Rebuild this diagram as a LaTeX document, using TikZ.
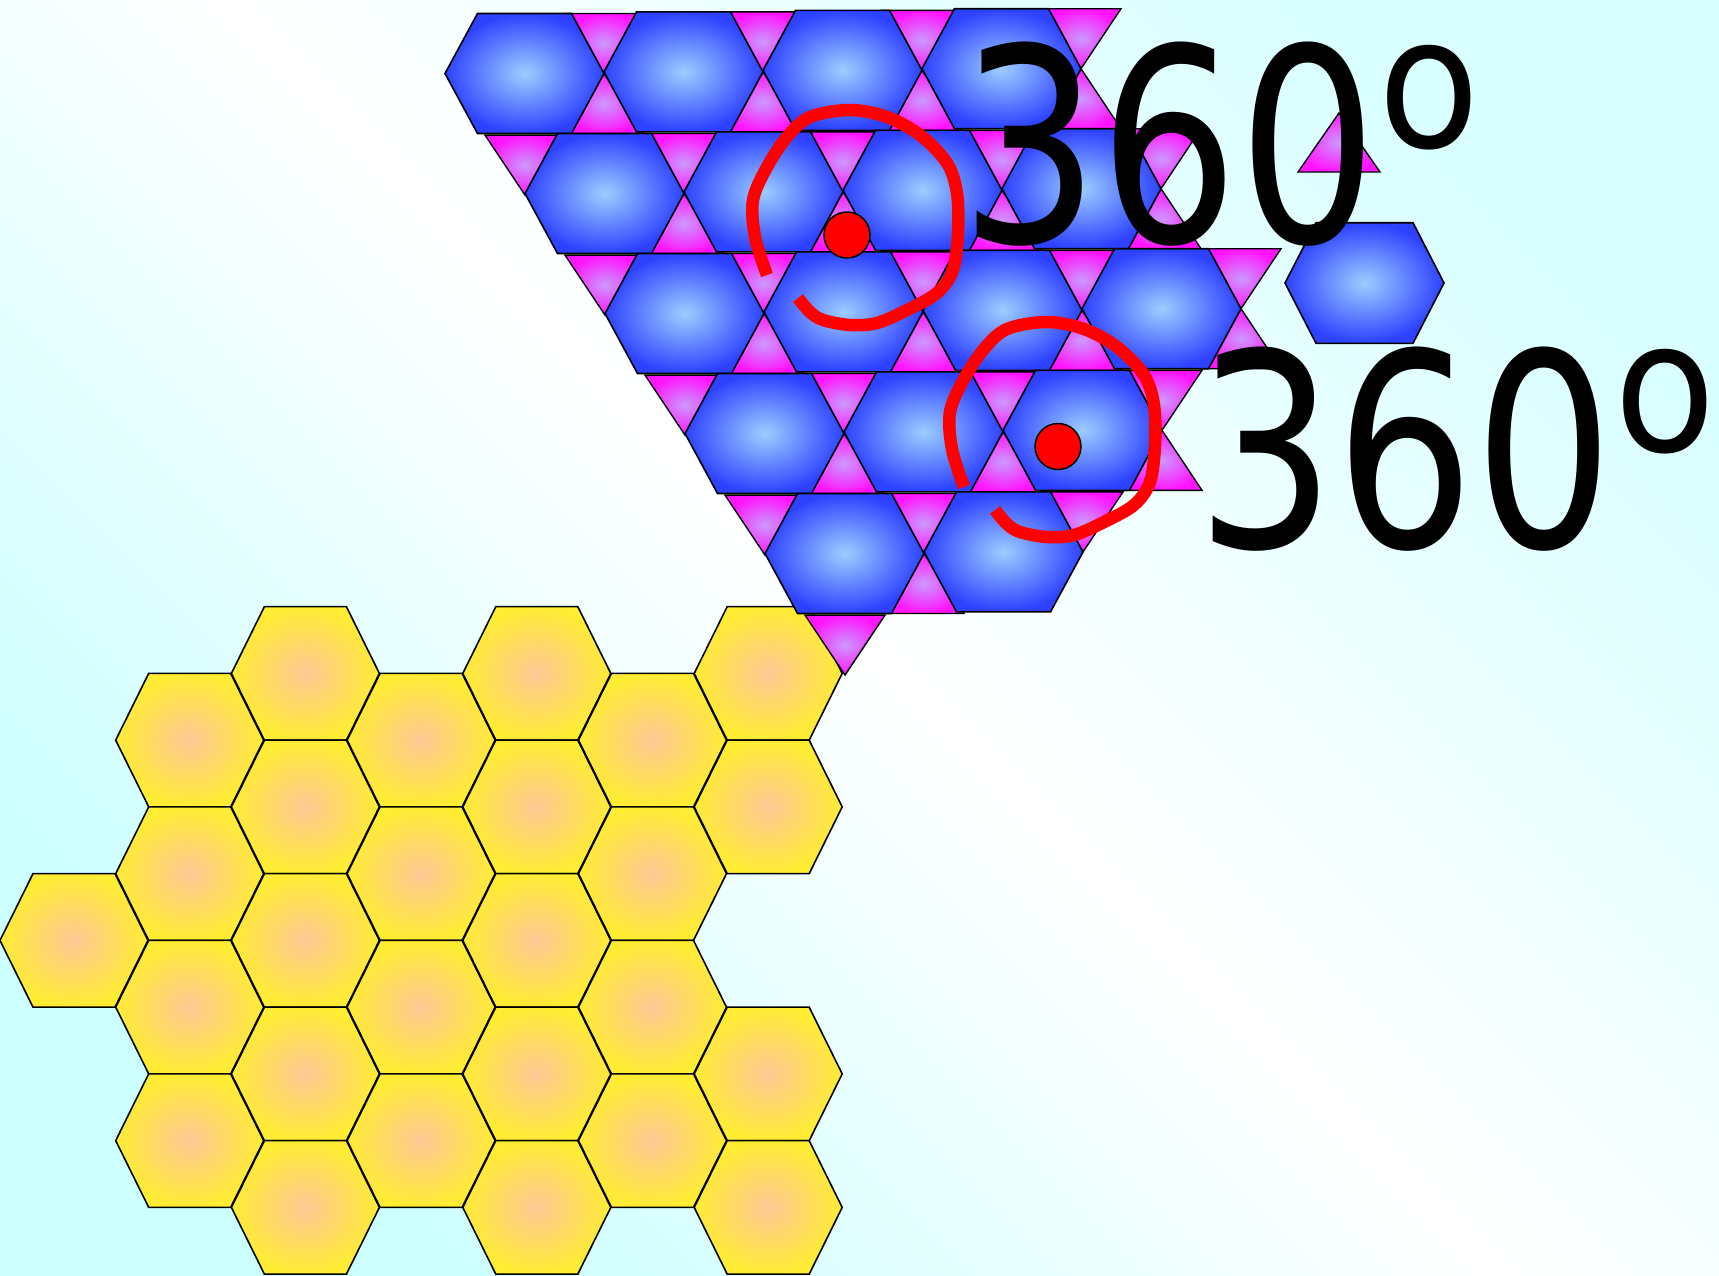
\documentclass[tikz,border=0pt]{standalone}
\usepackage{fontspec}
\usepackage{graphicx}
\usepackage{tikz}
\newfontfamily\degfont{DejaVu Sans}
\definecolor{bgcyan}{HTML}{CCFFFF}
\definecolor{bgcyanlt}{HTML}{DAFFFF}
\definecolor{hexblue}{HTML}{2D41FF}
\definecolor{hexbluelt}{HTML}{9CCDFF}
\definecolor{trimag}{HTML}{FF14FF}
\definecolor{trimaglt}{HTML}{CC99FF}
\definecolor{honey}{HTML}{FFEC33}
\definecolor{honeylt}{HTML}{FFC896}
\definecolor{loopred}{HTML}{FF0000}
\newcommand\dego{\raisebox{77pt}{\scalebox{1.12}[1]{\fontsize{148}{148}\selectfont o}}}

\begin{document}
\begin{tikzpicture}[
  x=1pt, y=-1pt,
  bluehex/.style={draw=black, line width=1.6pt, inner color=hexbluelt, outer color=hexblue},
  pinktri/.style={draw=black, line width=1.4pt, inner color=trimaglt, outer color=trimag},
  honeyhex/.style={draw=black, line width=1.6pt, inner color=honeylt, outer color=honey},
  turn/.style={draw=loopred, line width=12.5pt},
  dot/.style={draw=black, line width=1.5pt, fill=loopred},
  deg/.style={anchor=base west, inner sep=0pt, font={\degfont\fontsize{219}{219}\selectfont}}
]

\def\ox{524.5}
\def\oy{73.5}

\useasboundingbox (0,0) rectangle (1719,1275);
\shade[top color=bgcyanlt, bottom color=bgcyan, middle color=white, shading angle=-45]
  (0,0) rectangle (1719,1275);

% ---- yellow honeycomb ---------------------------------------------------
\foreach \c/\k in {0/2, 1/0,1/1,1/2,1/3, 2/0,2/1,2/2,2/3,2/4, 3/0,3/1,3/2,3/3,
                   4/0,4/1,4/2,4/3,4/4, 5/0,5/1,5/2,5/3, 6/0,6/1,6/3,6/4}
  \path[honeyhex, shift={({74+115.7*\c},{673.4+133.5*\k+66.75*mod(\c,2)})}]
    (-74,0) -- (-41,-66.75) -- (41,-66.75) -- (74,0) -- (41,66.75) -- (-41,66.75) -- cycle;

% ---- kagome: triangles first --------------------------------------------
\foreach \i/\j in {0/0,1/0,2/0,3/0, -1/1,0/1,1/1,2/1,3/1, -1/2,0/2,1/2,2/2,3/2,
                   -1/3,0/3,1/3,2/3, -1/4,0/4,1/4, -1/5}
  \path[pinktri, shift={({\ox+79.5+159*(\i)+80*\j},{\oy-1.6*(\i)+120*\j})}]
    (0,0) -- (-40,-60) -- (40,-60) -- cycle;
\foreach \i/\j in {0/0,1/0,2/0,3/0, 0/1,1/1,2/1,3/1, 0/2,1/2,2/2,3/2, 0/3,1/3,2/3, 0/4}
  \path[pinktri, shift={({\ox+79.5+159*\i+80*\j},{\oy-1.6*\i+120*\j})}]
    (0,0) -- (-40,60) -- (40,60) -- cycle;

% ---- kagome: hexagons ---------------------------------------------------
\foreach \i/\j in {0/0,1/0,2/0,3/0, 0/1,1/1,2/1,3/1, 0/2,1/2,2/2,3/2, 0/3,1/3,2/3, 0/4,1/4}
  \path[bluehex, shift={({\ox+159*\i+80*\j},{\oy-1.6*\i+120*\j})}]
    (-79.5,0) -- (-47,-60) -- (47,-60) -- (79.5,0) -- (47,60) -- (-47,60) -- cycle;

% loose pieces
\path[pinktri, shift={(1339,113)}] (0,0) -- (-41,59) -- (41,59) -- cycle;
\path[bluehex, shift={(1364.5,283)}]
  (-79.5,0) -- (-48.5,-60.3) -- (48.5,-60.3) -- (79.5,0) -- (48.5,60.3) -- (-48.5,60.3) -- cycle;

% ---- rotation marks -----------------------------------------------------
\foreach \s in {(0,0),(197,212)}
  \draw[turn, shift={\s}] plot[smooth, tension=0.55] coordinates {
    (767,275) (755,237) (753,200) (767,167) (787,137) (810,117) (850,110) (887,117)
    (920,135) (947,163) (957,193) (958,233) (953,270) (937,293) (907,310) (877,323)
    (850,325) (823,320) (810,312) (798,298)};
\draw[dot] (847,235) circle[radius=23];
\draw[dot] (1058,446.5) circle[radius=23];

\node[deg] (deg1) at (960,242.5) {\scalebox{1}[1.234]{360\dego}};
\node[deg] (deg2) at (1196,547) {\scalebox{1}[1.234]{360\dego}};

\end{tikzpicture}
\end{document}
